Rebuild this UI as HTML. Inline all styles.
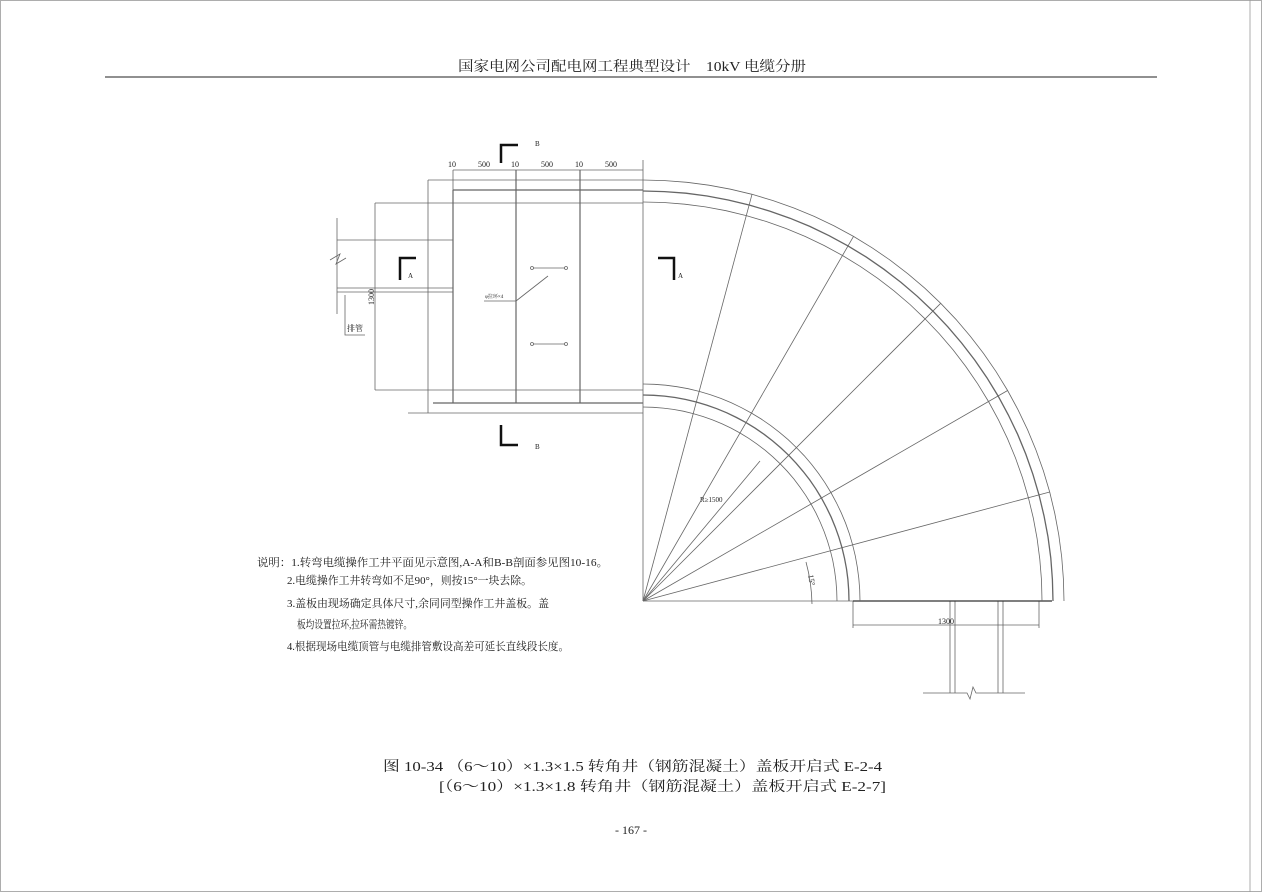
<!DOCTYPE html><html><head><meta charset="utf-8"><style>
body{margin:0;width:1262px;height:892px;background:#fff;overflow:hidden}
svg{position:absolute;left:0;top:0}
text{font-family:"Liberation Serif","Noto Serif CJK SC",serif;fill:#222}
</style></head><body>
<svg id="s" width="1262" height="892" viewBox="0 0 1262 892" stroke="#555" fill="none" stroke-width="0.8">
<rect x="0.5" y="0.5" width="1261" height="891" stroke="#999"/>
<line x1="1250" y1="0" x2="1250" y2="892" stroke="#999"/>
<text x="458" y="71" font-size="14" textLength="348" lengthAdjust="spacingAndGlyphs" stroke="none">国家电网公司配电网工程典型设计　10kV 电缆分册</text>
<line x1="105" y1="77" x2="1157" y2="77" stroke="#222" stroke-width="1"/>
<g stroke="#666">
<line x1="428" y1="180" x2="643" y2="180"/>
<line x1="453" y1="190" x2="643" y2="190" stroke-width="1.3"/>
<line x1="375" y1="203" x2="643" y2="203"/>
<line x1="428" y1="180" x2="428" y2="413"/>
<line x1="453" y1="190" x2="453" y2="403" stroke-width="1.2"/>
<line x1="516" y1="170" x2="516" y2="403" stroke-width="1.2"/>
<line x1="580" y1="170" x2="580" y2="403" stroke-width="1.2"/>
<line x1="643" y1="160" x2="643" y2="601"/>
<line x1="375" y1="390" x2="643" y2="390"/>
<line x1="433" y1="403" x2="643" y2="403" stroke-width="1.2"/>
<line x1="408" y1="413" x2="643" y2="413"/>
<line x1="453" y1="170" x2="643" y2="170"/>
<line x1="453" y1="170" x2="453" y2="190"/>
<line x1="375" y1="203" x2="375" y2="390"/>
<line x1="337" y1="240" x2="453" y2="240"/>
<line x1="337" y1="288" x2="453" y2="288"/>
<line x1="337" y1="292" x2="453" y2="292"/>
<line x1="337" y1="218" x2="337" y2="314"/>
<path d="M330 260 l10 -6 l-4 10 l10 -6"/>
<polyline points="345,295 345,335 365,335"/>
<line x1="533" y1="268" x2="565" y2="268"/><line x1="533" y1="344" x2="565" y2="344"/>
<circle cx="532" cy="268" r="1.5"/><circle cx="566" cy="268" r="1.5"/>
<circle cx="532" cy="344" r="1.5"/><circle cx="566" cy="344" r="1.5"/>
<line x1="548" y1="276" x2="516" y2="301"/><line x1="484" y1="301" x2="516" y2="301"/>
</g>
<text x="448" y="167" font-size="8" stroke="none">10</text><text x="478" y="167" font-size="8" stroke="none">500</text>
<text x="511" y="167" font-size="8" stroke="none">10</text><text x="541" y="167" font-size="8" stroke="none">500</text>
<text x="575" y="167" font-size="8" stroke="none">10</text><text x="605" y="167" font-size="8" stroke="none">500</text>
<text x="535" y="146" font-size="7" stroke="none">B</text><text x="535" y="449" font-size="7" stroke="none">B</text>
<text x="408" y="278" font-size="7" stroke="none">A</text><text x="678" y="278" font-size="7" stroke="none">A</text>
<text x="485" y="298" font-size="5" stroke="none">φ拉环×4</text>
<text x="347" y="331" font-size="8" stroke="none">排管</text>
<text x="374" y="305" font-size="8" stroke="none" transform="rotate(-90 374 305)">1300</text>
<g stroke="#111" stroke-width="2.5">
<polyline points="501,163 501,145 518,145"/><polyline points="501,425 501,445 518,445"/>
<polyline points="400,280 400,258 416,258"/><polyline points="658,258 674,258 674,280"/>
</g>
<g stroke="#666">
<line x1="853" y1="625" x2="1039" y2="625"/>
<line x1="853" y1="601" x2="853" y2="628"/><line x1="1039" y1="601" x2="1039" y2="628"/>
<line x1="950" y1="601" x2="950" y2="693"/><line x1="955" y1="601" x2="955" y2="693"/>
<line x1="998" y1="601" x2="998" y2="693"/><line x1="1003" y1="601" x2="1003" y2="693"/>
<path d="M923 693 H967 l3 6 l3 -12 l3 6 H1025"/>
<line x1="643" y1="601" x2="853" y2="601"/>
<line x1="853" y1="601" x2="1052" y2="601" stroke-width="1.3" stroke="#333"/>
</g>
<text x="946" y="624" font-size="8" text-anchor="middle" stroke="none">1300</text>
<text x="700" y="502" font-size="7" stroke="none">R≥1500</text>
<text x="808" y="575" font-size="8" stroke="none" transform="rotate(80 808 575)">15°</text>
<g font-size="11" stroke="none">
<text x="257" y="566" textLength="351" lengthAdjust="spacingAndGlyphs">说明：1.转弯电缆操作工井平面见示意图,A-A和B-B剖面参见图10-16。</text>
<text x="287" y="584" textLength="245" lengthAdjust="spacingAndGlyphs">2.电缆操作工井转弯如不足90°，则按15°一块去除。</text>
<text x="287" y="607" textLength="262" lengthAdjust="spacingAndGlyphs">3.盖板由现场确定具体尺寸,余同同型操作工井盖板。盖</text>
<text x="297" y="628" textLength="115" lengthAdjust="spacingAndGlyphs">板均设置拉环,拉环需热镀锌。</text>
<text x="287" y="650" textLength="282" lengthAdjust="spacingAndGlyphs">4.根据现场电缆顶管与电缆排管敷设高差可延长直线段长度。</text>
</g>
<g font-size="14" stroke="none">
<text x="383" y="771" textLength="499" lengthAdjust="spacingAndGlyphs">图 10-34 （6～10）×1.3×1.5 转角井（钢筋混凝土）盖板开启式 E-2-4</text>
<text x="439" y="791" textLength="447" lengthAdjust="spacingAndGlyphs">[（6～10）×1.3×1.8 转角井（钢筋混凝土）盖板开启式 E-2-7]</text>
<text x="631" y="834" font-size="12" text-anchor="middle">- 167 -</text>
</g>
<g id="arcs" stroke="#666"></g>
</svg>
<script>
var g=document.getElementById('arcs'),cx=643,cy=601,h='';
function poly(r,sw){var p=[];for(var i=0;i<=30;i++){var a=i*3*Math.PI/180;p.push((cx+r*Math.sin(a)).toFixed(1)+','+(cy-r*Math.cos(a)).toFixed(1));}h+='<polyline points="'+p.join(' ')+'" stroke-width="'+(sw||0.8)+'"/>';}
[194,206,217,399,410,421].forEach(function(r,i){poly(r,(i==1||i==4)?1.3:0.8)});
for(var i=1;i<=5;i++){var a=i*15*Math.PI/180;h+='<line x1="'+cx+'" y1="'+cy+'" x2="'+(cx+421*Math.sin(a)).toFixed(1)+'" y2="'+(cy-421*Math.cos(a)).toFixed(1)+'"/>';}
h+='<line x1="643" y1="601" x2="760" y2="461"/>';
h+='<path d="M806 562 A170 170 0 0 1 812 604"/>';
g.innerHTML=h;
</script>
</body></html>
